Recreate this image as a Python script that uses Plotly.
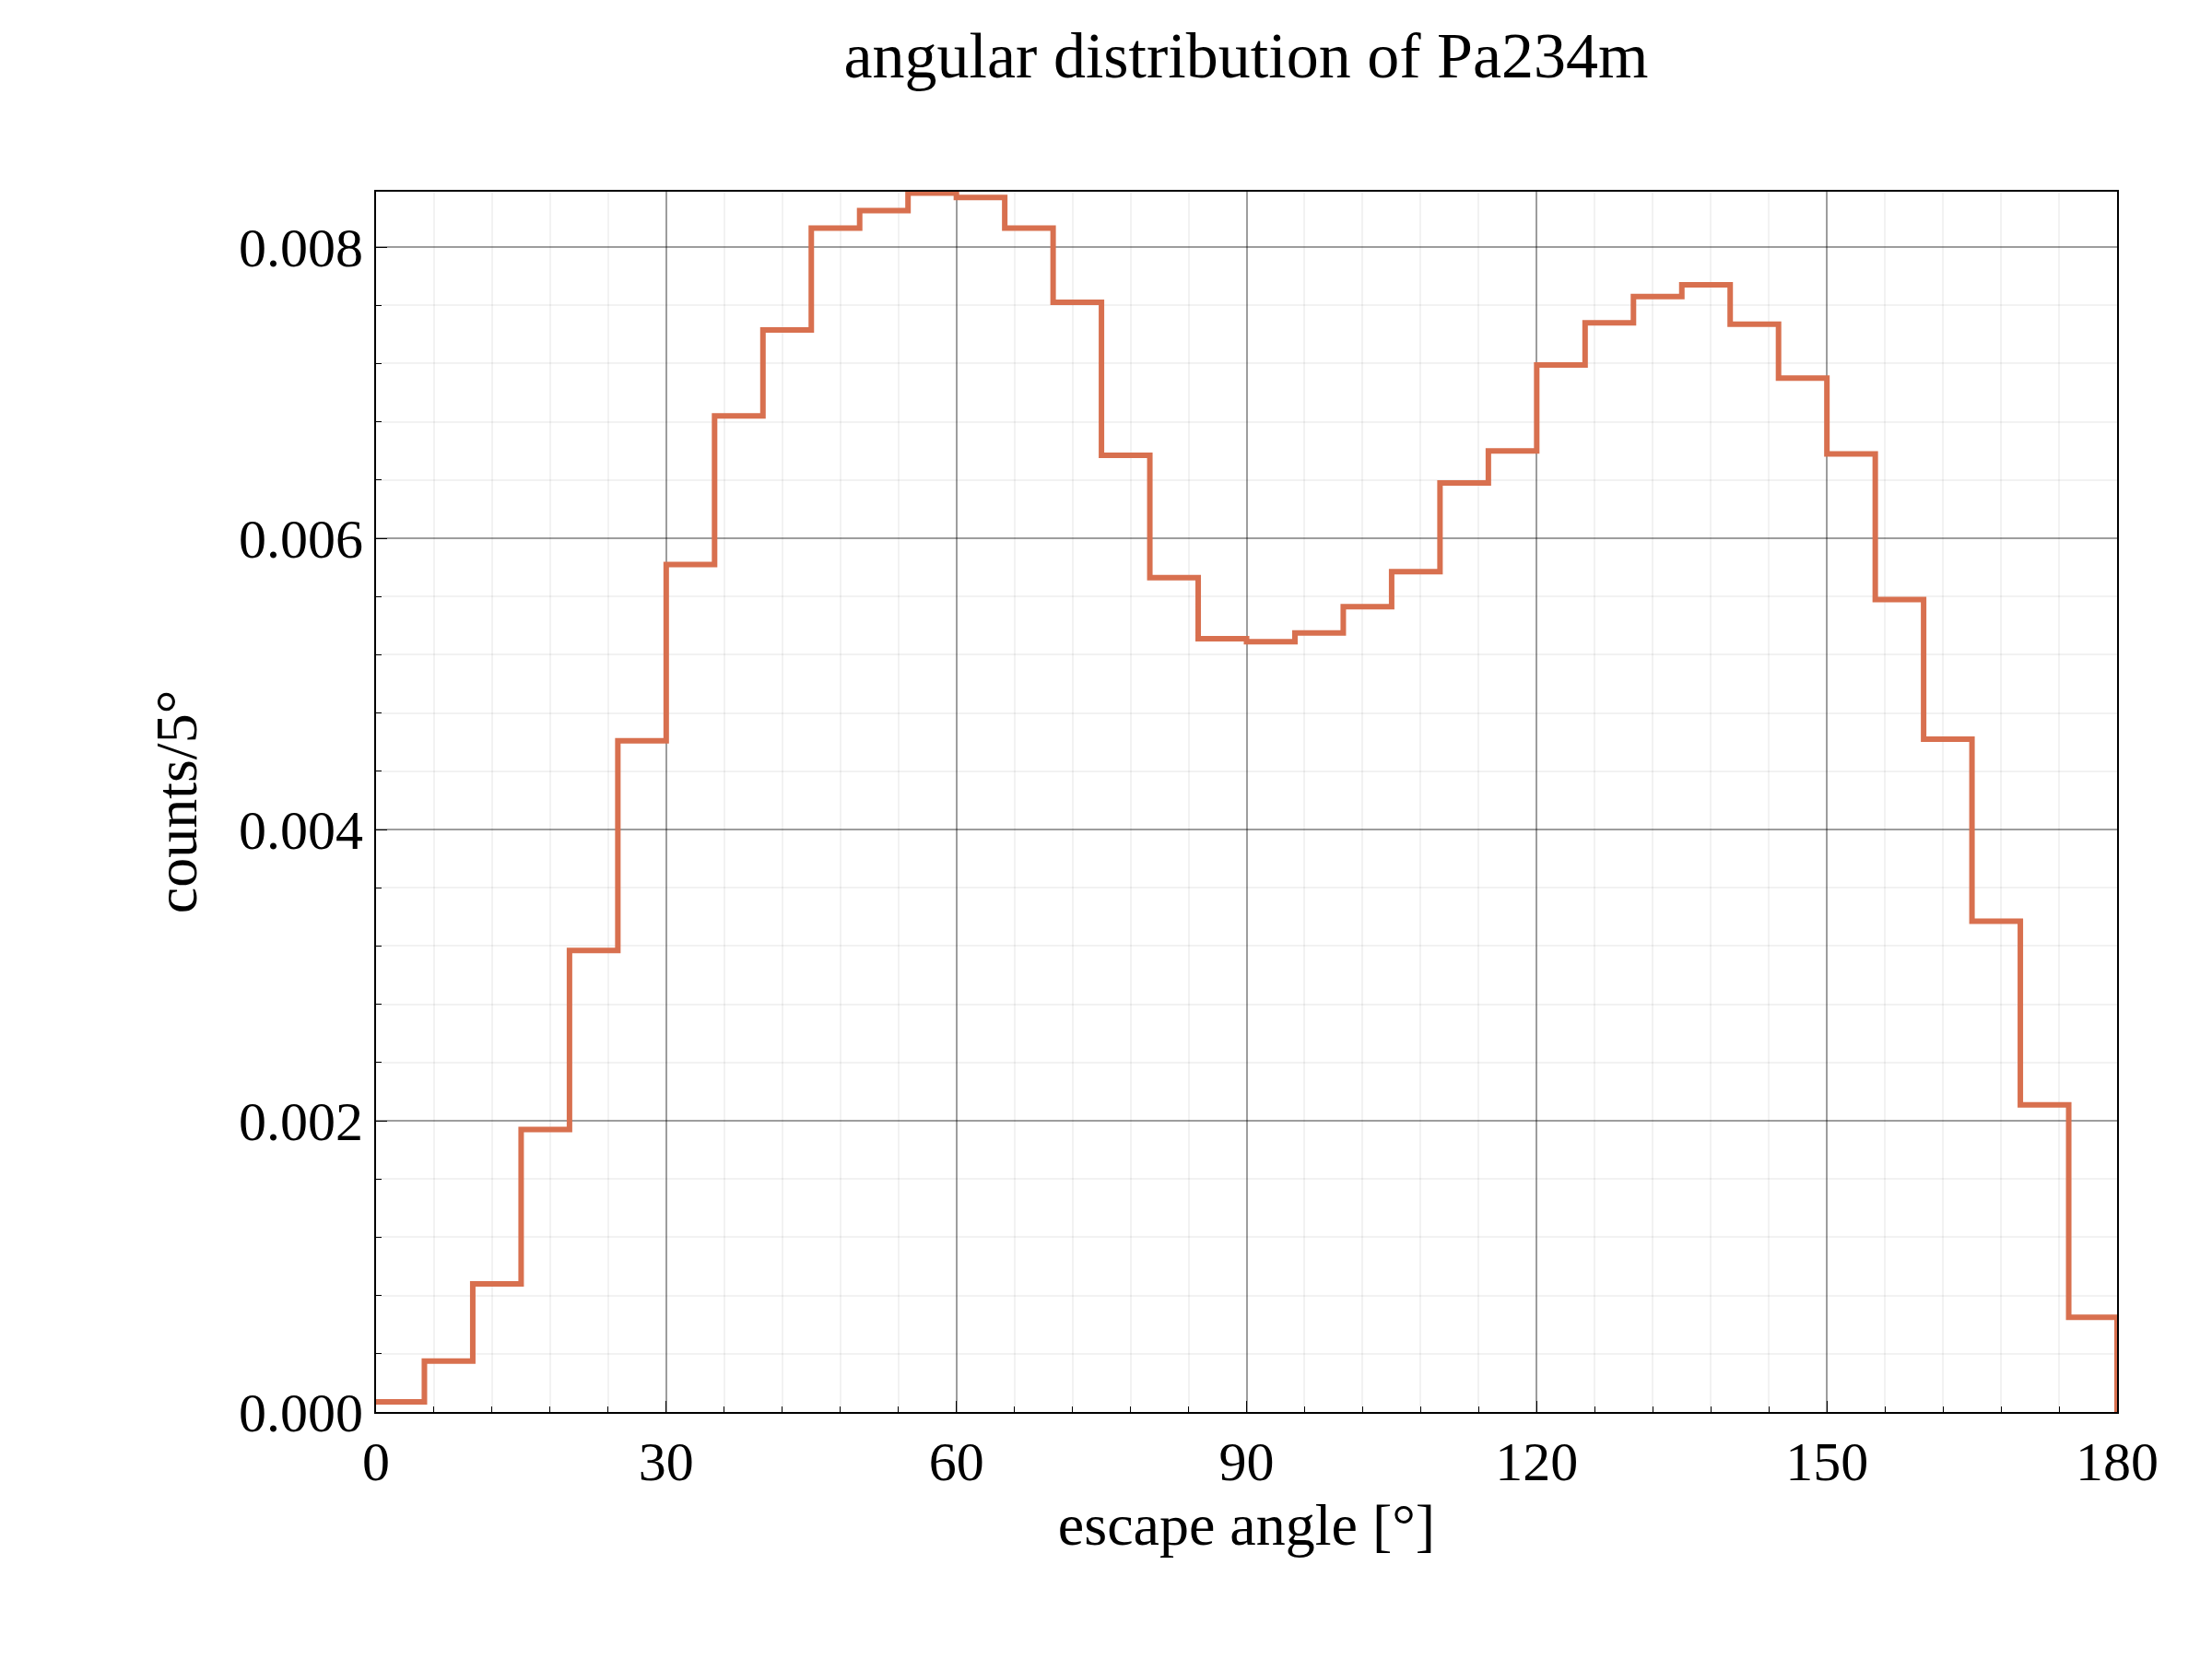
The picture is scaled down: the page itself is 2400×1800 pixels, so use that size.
import plotly.graph_objects as go

bin_edges = list(range(0, 185, 5))
counts = [0.00007,0.00035,0.00088,0.00194,0.00317,0.00461,0.00582,0.00684,0.00743,0.00813,
          0.00825,0.00837,0.00834,0.00813,0.00762,0.00657,0.00573,0.00531,0.00529,0.00535,
          0.00553,0.00577,0.00638,0.00660,0.00719,0.00748,0.00766,0.00774,0.00747,0.00710,
          0.00658,0.00558,0.00462,0.00337,0.00211,0.00065]

ys = counts + [counts[-1], 0]
xs = bin_edges[:-1] + [180, 180]

fig = go.Figure(go.Scatter(x=xs, y=ys, mode="lines", line=dict(shape="hv", color="#D8704F", width=6)))
font = "Liberation Serif"
ax = dict(showline=True, linecolor="black", linewidth=2, mirror=True, ticks="inside", ticklen=12,
          tickcolor="black", showgrid=True, gridcolor="rgba(0,0,0,0.35)", gridwidth=1.5, zeroline=False,
          tickfont=dict(family=font, size=60, color="black"))
fig.update_xaxes(**ax, range=[0, 180], tickvals=[0,30,60,90,120,150,180],
                 minor=dict(dtick=6, showgrid=True, gridcolor="rgba(0,0,0,0.05)", ticks="inside", ticklen=6, tickcolor="black"),
                 title=dict(text="escape angle [°]", font=dict(family=font, size=64, color="black"), standoff=5))
fig.update_yaxes(**ax, range=[0, 0.00838], tickvals=[0,0.002,0.004,0.006,0.008], tickformat=".3f",
                 minor=dict(dtick=0.0004, showgrid=True, gridcolor="rgba(0,0,0,0.05)", ticks="inside", ticklen=6, tickcolor="black"),
                 title=dict(text="counts/5°", font=dict(family=font, size=64, color="black"), standoff=25))
fig.update_layout(width=2400, height=1800, plot_bgcolor="white", paper_bgcolor="white", showlegend=False,
                  margin=dict(l=400, r=111, t=200, b=276),
                  title=dict(text="angular distribution of Pa234m", x=0.56, xanchor="center", y=0.985, yanchor="top",
                             font=dict(family=font, size=70, color="black")))
fig.write_html("out.html")
